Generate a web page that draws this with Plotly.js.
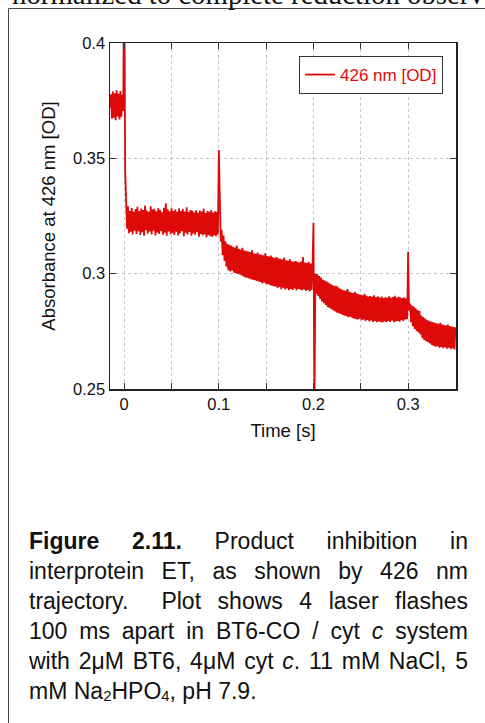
<!DOCTYPE html>
<html>
<head>
<meta charset="utf-8">
<script src="https://cdn.plot.ly/plotly-3.0.1.min.js"></script>
<style>
  html, body { margin:0; padding:0; background:#fff; }
  body { width:485px; height:723px; overflow:hidden; position:relative; }
  #chart { position:absolute; left:0; top:0; width:485px; height:723px; }
  #overlay { position:absolute; left:0; top:0; width:485px; height:723px; pointer-events:none; }
  #caption { position:absolute; left:29px; top:526px; width:439px; font-family:"Liberation Sans", Arial, sans-serif; font-size:23px; line-height:30px; color:#111; }
  #caption .ln { text-align:justify; text-align-last:justify; white-space:nowrap; height:30px; }
  #caption .last { text-align:left; text-align-last:left; }
  #caption sub { font-size:0.65em; vertical-align:-0.15em; line-height:0; }
</style>
</head>
<body>
<div id="chart"></div>
<svg id="overlay" width="485" height="723">
  <line x1="8.5" y1="8.5" x2="485" y2="8.5" stroke="#444" stroke-width="1"/>
  <line x1="8.5" y1="8.5" x2="8.5" y2="723" stroke="#444" stroke-width="1"/>
  <text x="12" y="4" font-family="Liberation Serif, Times New Roman, serif" font-size="28.8" fill="#111">normalized to complete reduction observed</text>
</svg>
<div id="caption">
  <div class="ln"><b>Figure 2.11.</b> Product inhibition in</div>
  <div class="ln">interprotein ET, as shown by 426 nm</div>
  <div class="ln">trajectory.&nbsp; Plot shows 4 laser flashes</div>
  <div class="ln">100 ms apart in BT6-CO / cyt <i>c</i> system</div>
  <div class="ln">with 2μM BT6, 4μM cyt <i>c</i>. 11 mM NaCl, 5</div>
  <div class="ln last">mM Na<sub>2</sub>HPO<sub>4</sub>, pH 7.9.</div>
</div>
<script>
// ---- data (absorbance at 426 nm, OD) ----
const sampleStep = 0.001;          // s between samples
const preFlashStart = -0.015;      // s
const flashTimes = [0.0, 0.1, 0.2, 0.3];

const preFlash = [0.3720, 0.3778, 0.3672, 0.3790, 0.3676, 0.3782, 0.3665, 0.3795, 0.3682, 0.3780, 0.3668, 0.3792, 0.3680, 0.3776, 0.3705];

const afterFlash1 = [0.4500, 0.3450, 0.3300, 0.3195, 0.3292,
 0.3175, 0.3272, 0.3182, 0.3285, 0.3170, 0.3268, 0.3186, 0.3280, 0.3172, 0.3290,
 0.3184, 0.3270, 0.3168, 0.3282, 0.3180, 0.3276, 0.3165, 0.3295, 0.3188, 0.3274,
 0.3174, 0.3268, 0.3183, 0.3292, 0.3170, 0.3278, 0.3186, 0.3281, 0.3166, 0.3270,
 0.3179, 0.3284, 0.3172, 0.3276, 0.3185, 0.3266, 0.3169, 0.3286, 0.3178, 0.3305,
 0.3164, 0.3279, 0.3183, 0.3270, 0.3171, 0.3283, 0.3177, 0.3272, 0.3168, 0.3278,
 0.3182, 0.3268, 0.3166, 0.3284, 0.3175, 0.3271, 0.3185, 0.3280, 0.3162, 0.3269,
 0.3178, 0.3288, 0.3170, 0.3267, 0.3181, 0.3276, 0.3165, 0.3273, 0.3174, 0.3266,
 0.3169, 0.3275, 0.3180, 0.3264, 0.3160, 0.3274, 0.3172, 0.3269, 0.3166, 0.3282,
 0.3171, 0.3263, 0.3158, 0.3272, 0.3168, 0.3268, 0.3162, 0.3276, 0.3160, 0.3265,
 0.3166, 0.3270, 0.3162, 0.3268, 0.3170];

const afterFlash2 = [0.3536,
 0.3225, 0.3140, 0.3190, 0.3080, 0.3165, 0.3055, 0.3140, 0.3030, 0.3130, 0.3015,
 0.3125, 0.3010, 0.3122, 0.3014, 0.3116, 0.3004, 0.3113, 0.3002, 0.3122, 0.2999,
 0.3108, 0.2996, 0.3105, 0.2992, 0.3112, 0.2988, 0.3100, 0.2984, 0.3098, 0.2982,
 0.3096, 0.2979, 0.3094, 0.2976, 0.3102, 0.2974, 0.3088, 0.2972, 0.3086, 0.2968,
 0.3092, 0.2966, 0.3084, 0.2964, 0.3082, 0.2958, 0.3080, 0.2962, 0.3088, 0.2955,
 0.3076, 0.2954, 0.3074, 0.2951, 0.3079, 0.2948, 0.3071, 0.2946, 0.3069, 0.2944,
 0.3072, 0.2938, 0.3066, 0.2942, 0.3064, 0.2933, 0.3061, 0.2939, 0.3070, 0.2931,
 0.3058, 0.2936, 0.3056, 0.2928, 0.3063, 0.2934, 0.3054, 0.2929, 0.3052, 0.2936,
 0.3056, 0.2927, 0.3051, 0.2934, 0.3048, 0.2930, 0.3054, 0.2928, 0.3072, 0.2931,
 0.3048, 0.2925, 0.3046, 0.2929, 0.3052, 0.2923, 0.3044, 0.2929, 0.3040];

const afterFlash3 = [0.3221, 0.2400,
 0.3000, 0.2912, 0.2998, 0.2902, 0.2990, 0.2890, 0.2983, 0.2880, 0.2975, 0.2872,
 0.2970, 0.2864, 0.2966, 0.2856, 0.2961, 0.2851, 0.2956, 0.2846, 0.2951, 0.2841,
 0.2946, 0.2836, 0.2948, 0.2831, 0.2941, 0.2829, 0.2936, 0.2825, 0.2931, 0.2821,
 0.2928, 0.2818, 0.2926, 0.2815, 0.2933, 0.2811, 0.2921, 0.2813, 0.2918, 0.2808,
 0.2916, 0.2805, 0.2922, 0.2803, 0.2914, 0.2801, 0.2911, 0.2805, 0.2908, 0.2798,
 0.2906, 0.2801, 0.2913, 0.2795, 0.2904, 0.2799, 0.2901, 0.2793, 0.2903, 0.2797,
 0.2900, 0.2791, 0.2906, 0.2795, 0.2898, 0.2789, 0.2902, 0.2793, 0.2896, 0.2791,
 0.2901, 0.2788, 0.2894, 0.2793, 0.2898, 0.2789, 0.2896, 0.2795, 0.2902, 0.2791,
 0.2895, 0.2797, 0.2899, 0.2790, 0.2904, 0.2793, 0.2897, 0.2795, 0.2900, 0.2792,
 0.2896, 0.2798, 0.2894, 0.2795, 0.2898, 0.2801, 0.2892, 0.2803];

const afterFlash4 = [0.3095, 0.2840, 0.2870, 0.2790,
 0.2862, 0.2772, 0.2858, 0.2760, 0.2850, 0.2752, 0.2842, 0.2745, 0.2838, 0.2736,
 0.2818, 0.2720, 0.2812, 0.2713, 0.2806, 0.2707, 0.2800, 0.2703, 0.2796, 0.2697,
 0.2792, 0.2691, 0.2790, 0.2687, 0.2787, 0.2683, 0.2785, 0.2685, 0.2783, 0.2679,
 0.2787, 0.2682, 0.2779, 0.2677, 0.2777, 0.2681, 0.2775, 0.2675, 0.2779, 0.2679,
 0.2773, 0.2673, 0.2771, 0.2677, 0.2769, 0.2671, 0.2767];

const seriesName = '426 nm [OD]';
const xTickVals = [0, 0.05, 0.1, 0.15, 0.2, 0.25, 0.3, 0.35];
const xTickText = ['0', '', '0.1', '', '0.2', '', '0.3', ''];
const yTickVals = [0.25, 0.3, 0.35, 0.4];
const yTickText = ['0.25', '0.3', '0.35', '0.4'];

// ---- assemble the sampled trace ----
const segments = [
  {start: preFlashStart, vals: preFlash},
  {start: flashTimes[0], vals: afterFlash1},
  {start: flashTimes[1], vals: afterFlash2},
  {start: flashTimes[2], vals: afterFlash3},
  {start: flashTimes[3], vals: afterFlash4}
];
const t = [], a = [];
segments.forEach(s => s.vals.forEach((v, i) => { t.push(+(s.start + i * sampleStep).toFixed(4)); a.push(v); }));

const red = 'rgb(222,10,10)';
const trace = {
  x: t, y: a, type: 'scatter', mode: 'lines', name: seriesName,
  line: {color: red, width: 1.8}, showlegend: true
};

const axisCommon = {
  ticks: 'inside', ticklen: 6, tickwidth: 1, tickcolor: '#333',
  showline: true, linecolor: '#222', linewidth: 1.5, mirror: 'ticks',
  showgrid: true, gridcolor: '#c4c4c4', gridwidth: 1, griddash: 'dot',
  zeroline: false, automargin: false, tickfont: {size: 16.5, color: '#111'}
};

const layout = {
  width: 485, height: 723,
  margin: {l: 110, r: 29, t: 43, b: 334, pad: 0},
  paper_bgcolor: 'rgba(0,0,0,0)', plot_bgcolor: '#fff',
  font: {family: '"Liberation Sans", Arial, sans-serif', color: '#111', size: 16.5},
  showlegend: true,
  legend: {x: 0.9624, xanchor: 'right', y: 0.9624, yanchor: 'top',
           bgcolor: '#fff', bordercolor: '#333', borderwidth: 1,
           font: {size: 17, color: red}, itemwidth: 30},
  xaxis: Object.assign({}, axisCommon, {
    range: [-0.015, 0.3506], tickmode: 'array', tickvals: xTickVals, ticktext: xTickText,
    title: {text: 'Time [s]', font: {size: 18.5, color: '#111'}, standoff: 12}
  }),
  yaxis: Object.assign({}, axisCommon, {
    range: [0.25, 0.4], tickmode: 'array', tickvals: yTickVals, ticktext: yTickText,
    title: {text: 'Absorbance at 426 nm [OD]', font: {size: 18.5, color: '#111'}, standoff: 12}
  })
};

Plotly.newPlot('chart', [trace], layout, {staticPlot: true, displayModeBar: false});
</script>
</body>
</html>
